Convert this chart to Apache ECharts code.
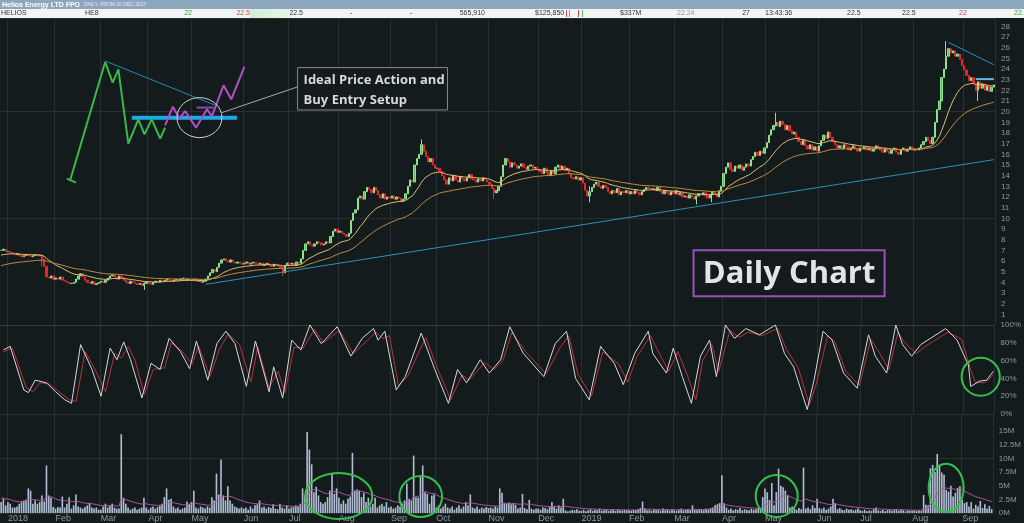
<!DOCTYPE html>
<html><head><meta charset="utf-8">
<script src="https://cdn.jsdelivr.net/npm/echarts@6/dist/echarts.min.js"></script>
<style>html,body{margin:0;padding:0;background:#131b1d;overflow:hidden}#c{width:1024px;height:523px}</style>
</head><body><div id="c"></div>
<script>
// ---------- DATA ----------
const monthLabels = ['', '2018','Feb','Mar','Apr','May','Jun','Jul','Aug','Sep','Oct','Nov','Dec','2019','Feb','Mar','Apr','May','Jun','Jul','Aug','Sep'];

const close2017 = [[7.0,7.1,6.9]];
const close2018 = [
 [6.9,6.8,6.7,6.6,6.7,6.5,6.4,6.5,6.6,6.5,6.4,6.5,6.6,6.5,6.5,6.2,5.5,4.5,4.4,4.6,4.3],
 [4.4,4.3,4.5,4.2,4.1,4.0,3.9,3.9,4.0,4.3,4.6,4.8,4.5,4.2,4.0,3.9,4.1,3.8,3.9,4.0],
 [4.1,4.0,4.2,4.4,4.6,4.7,4.5,4.3,4.6,4.4,4.2,4.0,3.9,4.1,4.0,3.9,3.8,3.9,3.7,3.9,4.0],
 [3.9,3.8,4.0,4.1,4.0,4.2,4.1,4.2,4.3,4.2,4.1,4.2,4.3,4.2,4.3,4.4,4.2,4.3,4.2],
 [4.2,4.3,4.1,4.2,4.0,4.1,4.3,4.6,4.9,5.2,5.0,5.4,5.8,6.1,6.2,6.0,5.9,6.1,5.9,5.8,5.9,5.8,5.7],
 [5.8,5.9,5.7,5.8,5.9,5.8,5.7,5.8,5.6,5.7,5.8,5.6,5.5,5.7,5.6,5.5,5.3,4.9,5.6,5.8],
 [5.7,5.8,5.6,5.9,5.8,6.2,7.0,7.6,7.8,7.5,7.4,7.6,7.8,7.7,7.5,7.6,7.8,7.7,8.3,8.8,9.0,8.7],
 [8.8,8.6,8.5,8.3,8.6,9.8,10.5,10.8,11.9,12.1,11.8,12.5,12.9,12.7,12.4,12.9,12.6,12.2,11.9,12.3,11.8,12.0,11.9],
 [12.1,11.8,12.0,11.9,11.6,11.8,12.3,13.0,13.6,13.4,15.0,15.6,16.0,16.9,16.3,15.8,15.3,15.6,15.0,14.7],
 [14.7,14.4,14.0,13.6,13.2,13.8,13.5,14.0,13.6,13.4,13.9,13.7,13.5,13.8,14.1,13.7,13.6,13.4,13.7,13.5,13.8,13.6,13.4],
 [13.2,12.8,12.4,12.6,13.0,13.9,15.0,15.6,15.3,14.8,15.2,15.0,14.7,14.9,15.1,14.8,14.6,14.9,15.0,14.7,14.8,14.6],
 [14.4,14.2,14.7,14.3,14.0,14.5,14.2,14.8,15.0,14.6,14.9,14.5,14.7,14.2,13.8,13.7,13.9,13.6,13.8]
];
const close2019 = [
 [13.3,12.6,12.1,12.5,12.9,13.2,13.4,13.0,12.8,13.1,12.9,12.5,12.3,12.6,12.4,12.8,12.2,12.5,12.4,12.6,12.3],
 [12.5,12.3,12.6,12.4,12.2,12.5,12.7,12.9,12.8,12.7,12.8,12.6,12.9,12.5,12.3,12.6,12.4,12.2,12.5,12.3],
 [12.6,12.2,12.4,12.0,12.1,11.9,12.2,12.0,11.8,12.1,12.3,12.2,12.4,12.1,11.9,12.2,12.5,12.3,12.0,12.6,13.0],
 [14.2,14.8,15.2,14.6,14.4,14.9,14.7,15.0,14.5,14.8,15.1,14.9,15.5,15.8,16.2,15.9,16.3,16.1,16.6],
 [17.1,17.8,18.3,18.7,19.0,18.6,19.1,18.8,18.3,18.7,18.2,17.9,18.1,17.6,17.2,16.9,17.3,16.8,16.5,16.9,16.4,16.7,16.3],
 [16.8,17.3,17.8,17.5,18.1,17.6,17.2,16.9,16.6,16.8,16.5,16.9,16.7,16.4,16.6,16.8,16.5,16.3,16.6],
 [16.5,16.7,16.4,16.6,16.3,16.5,16.8,16.6,16.4,16.2,16.5,16.3,16.1,16.4,16.6,16.2,16.0,16.4,16.6,16.3,16.5,16.7,16.4],
 [16.5,16.4,16.6,16.9,17.2,17.6,17.3,17.0,17.6,19.0,20.2,21.0,23.2,24.0,25.2,25.9,25.5,25.7,25.2,25.4,24.9,24.3],
 [23.9,23.4,22.9,23.2,22.6,22.0,22.8,22.2,22.6,22.0,22.4,21.9,22.3,22.5]
];
// notable intraday wicks: [bar index, low, high]
const wicks = [[18,5.5,6.6],[63,3.3,4.0],[124,4.6,5.5],[185,16.0,17.4],[217,11.8,12.8],[259,11.5,13.0],[306,11.3,12.1],[313,11.5,12.2],[341,18.6,19.9],[416,25.2,26.6],[430,21.0,22.8]];

// volume in millions
const volume2017 = [[2.0,2.6,1.4]];
const volume2018 = [
 [2.0,1.7,1.0,1.0,1.2,1.7,2.1,2.3,2.4,4.5,4.1,1.7,2.3,1.7,2.0,3.2,2.1,8.7,3.2,2.8,1.1],
 [0.8,1.1,1.0,3.0,1.0,1.7,2.9,0.8,1.4,3.4,1.2,1.0,0.8,1.1,1.4,1.8,1.0,0.8,1.0,0.6],
 [0.6,1.2,1.7,1.0,1.4,1.7,1.0,0.8,0.8,14.4,2.8,1.7,1.0,0.6,0.8,1.0,0.6,0.8,1.0,2.8,1.0],
 [0.6,1.0,1.2,0.8,1.1,1.4,1.7,2.9,4.5,2.4,2.6,1.2,0.8,1.0,0.6,0.8,1.0,2.1,1.7],
 [2.0,4.1,1.0,0.8,1.2,1.0,0.8,1.2,1.0,2.9,2.3,7.2,3.4,9.8,3.2,2.3,4.9,2.3,1.7,1.2,1.0,0.8,1.0],
 [0.8,1.0,0.6,1.2,0.8,1.4,1.6,2.3,1.0,1.2,0.8,1.1,0.9,1.6,0.8,0.7,1.7,1.0,0.8,1.4],
 [0.8,1.0,1.1,1.4,1.2,1.7,4.5,3.2,14.8,11.6,8.9,3.8,4.8,3.2,2.0,1.7,2.0,2.9,4.1,7.2,3.5,4.5],
 [2.8,1.7,2.3,1.7,2.6,3.0,11.0,4.1,4.3,4.1,2.9,3.7,2.0,2.8,1.2,1.7,2.8,1.0,1.4,1.7,1.2,2.0,1.0],
 [1.2,0.8,1.0,1.4,1.2,1.7,2.3,5.4,2.6,2.3,10.5,2.9,2.8,6.6,8.7,3.8,3.5,1.7,3.2,3.4],
 [1.0,1.4,0.8,1.2,1.7,1.0,0.8,1.2,0.6,1.0,1.4,0.8,1.2,2.0,1.4,3.4,1.0,0.8,1.2,0.7,1.0,0.8,1.1],
 [0.9,1.0,0.8,1.2,1.0,4.5,3.7,1.8,1.7,1.9,1.6,1.7,1.5,0.8,1.0,3.5,0.9,0.7,2.4,0.8,0.6,0.8],
 [0.8,0.6,1.0,0.9,0.7,1.1,2.0,1.2,0.8,1.4,1.0,2.6,0.5,0.3,0.4,0.6,0.5,0.7,0.4]
];
const volume2019 = [
 [0.4,0.6,0.3,0.5,0.7,0.4,0.6,0.5,0.8,0.4,0.5,0.6,0.4,0.5,0.7,0.4,0.6,0.5,0.4,0.6,0.5],
 [0.5,0.4,0.6,0.5,0.7,0.9,2.1,0.8,0.5,0.6,0.4,0.7,0.5,0.6,0.4,0.8,0.5,0.6,0.4,0.7],
 [0.5,0.4,0.6,0.8,0.5,0.6,0.7,0.5,1.4,0.6,0.5,0.7,0.6,0.5,0.8,0.6,0.9,1.0,1.4,1.6,1.8],
 [6.9,1.8,1.0,0.6,0.8,0.5,0.7,0.6,0.9,0.5,0.7,0.6,0.5,0.8,0.6,0.7,0.9,0.8,2.9],
 [4.5,3.8,2.4,5.5,1.4,3.8,8.1,5.0,4.7,4.1,3.2,1.0,1.2,0.8,0.6,0.9,0.7,8.3,0.8,1.0,0.7,1.4,0.9],
 [2.6,0.9,0.7,1.0,0.6,0.8,1.2,2.6,1.8,0.7,0.9,0.6,0.5,0.8,0.6,0.7,0.5,0.6,0.8],
 [0.5,0.4,0.6,0.3,0.5,0.4,0.7,1.0,0.5,0.4,0.6,0.3,0.5,0.6,0.4,0.5,0.7,0.4,0.6,0.5,0.3,0.5,0.4],
 [0.4,0.5,0.3,0.5,0.4,3.3,1.5,1.4,8.2,8.8,7.5,10.8,8.6,7.4,7.0,4.2,3.9,5.0,3.0,3.7,4.6,4.9],
 [2.4,1.8,2.0,1.2,2.0,0.8,1.5,1.2,2.2,0.9,1.6,0.8,1.3,0.7]
];
const volumeTicksShown = [0,2.5,5,7.5,10,12.5,15];

// stochastic oscillator turning points [bar index, %]
const stochK = [[1,72],[4,76],[10,27],[12,24],[15,38],[20,35],[24,25],[28,16],[31,12],[35,78],[40,50],[44,20],[48,74],[51,61],[54,81],[57,61],[62,18],[66,57],[70,50],[74,85],[79,70],[83,51],[86,82],[91,38],[95,79],[99,93],[103,79],[108,31],[112,82],[118,25],[120,53],[124,18],[128,83],[132,72],[136,100],[141,79],[148,98],[154,65],[159,85],[164,96],[166,83],[169,93],[174,27],[178,42],[185,91],[191,50],[197,12],[201,50],[205,35],[211,61],[215,46],[220,61],[224,98],[230,68],[239,42],[244,79],[249,93],[253,40],[259,16],[264,76],[270,57],[274,33],[279,68],[285,93],[287,68],[293,46],[296,74],[300,42],[304,12],[308,65],[312,83],[315,42],[319,100],[323,85],[328,96],[334,89],[341,100],[345,68],[349,53],[355,5],[358,38],[362,93],[366,83],[371,46],[377,29],[382,89],[385,65],[390,46],[394,100],[397,78],[401,65],[405,78],[416,96],[421,83],[426,55],[427,31],[431,37],[434,38],[437,48]];
const stochD = [[1,70],[5,74],[11,30],[14,25],[17,35],[21,34],[25,26],[30,16],[33,14],[37,70],[41,52],[46,25],[50,68],[53,63],[56,76],[59,60],[63,22],[67,50],[72,52],[75,80],[80,70],[84,56],[87,76],[92,42],[96,72],[100,90],[105,78],[110,36],[113,75],[118,30],[122,48],[125,24],[129,75],[133,74],[138,95],[142,80],[149,94],[155,68],[161,82],[165,92],[168,85],[171,88],[175,32],[179,42],[187,86],[192,52],[198,16],[203,44],[206,38],[213,58],[217,50],[221,60],[225,92],[231,70],[240,45],[246,74],[250,88],[254,45],[260,20],[265,70],[272,56],[276,36],[280,64],[286,88],[289,72],[294,48],[298,70],[302,45],[306,16],[309,60],[313,78],[316,48],[321,94],[325,86],[329,92],[335,88],[342,96],[346,72],[351,52],[356,10],[359,34],[364,88],[367,82],[372,48],[378,32],[383,84],[387,68],[391,50],[395,92],[398,80],[403,68],[407,76],[417,92],[423,84],[427,50],[429,36],[433,35],[437,44]];

// moving-average start levels read at the left edge
const maStart = {fast: 6.5, slow: 5.5, volume: 2.8};

// drawn annotations, in [bar index, price] units
const sketchRise = [[30.3,13.5],[45.8,24.65],[49.1,22.72],[51.6,23.97],[56.0,17.0],[60.4,19.28],[63.1,17.87],[66.3,19.28],[70.0,17.47],[72.2,18.5]];
const sketchCap = [[28.9,13.72],[33.0,13.35]];
const sketchBreak = [[72.2,18.72],[75.6,20.47],[78.5,19.37],[81.0,20.06],[85.8,18.5],[90.6,20.22],[92.8,19.59],[97.9,22.47],[101.3,21.16],[107.1,24.22]];
const sketchLevel = [[57.5,19.44],[103.8,19.44]];
const sketchTrend = [[45.8,24.75],[95.0,20.53]];
const sketchTarget = [[86.1,20.38],[93.5,20.38]];
const noteLink = [[97.2,19.91],[130.9,22.35]];
const supportLine = [[90,3.81],[437,15.5]];
const resistLine = [[417,26.5],[437,24.4]];
const breakoutLine = [[429,23.05],[437,23.05]];
const sketchRing = {c:[87.3,19.44], r:[9.9,1.875]};
const noteBox = [[130.5,24.13],[196.5,20.16]];
const noteText = 'Ideal Price Action and\nBuy Entry Setup';
const titleBox = [[304.8,7.0],[388.9,2.69]];
const titleText = 'Daily Chart';
const oscRing = {c:[431.2,41.9], r:[8.4,21.3]};
const volRings = [{c:[148.6,3.1],r:[14.8,4.2]},{c:[184.7,3.0],r:[9.4,3.75]},{c:[341.4,3.1],r:[9.25,3.84]},{c:[416.0,4.6],r:[7.7,4.4]}];

// ---------- BUILD ----------
const closeMonths = [...close2017, ...close2018, ...close2019];
const volMonths = [...volume2017, ...volume2018, ...volume2019];
const cats = [], closes = [], vols = [], labelAt = [];
closeMonths.forEach((m, mi) => m.forEach((c, j) => {
  cats.push(mi + '-' + j); closes.push(c); vols.push(volMonths[mi][j]);
  labelAt.push(j === 0 && mi > 0 ? monthLabels[mi] : '');
}));
const N = cats.length;
const wickMap = {}; wicks.forEach(w => { wickMap[w[0]] = w; });
const candles = closes.map((c, i) => {
  const o = i ? closes[i-1] : c; const w = wickMap[i];
  let lo = Math.min(o,c), hi = Math.max(o,c);
  if (w) { lo = Math.min(lo, w[1]); hi = Math.max(hi, w[2]); }
  return [o, c, lo, hi];
});
function ema(arr, n, seed){ const k = 2/(n+1); let p = seed; return arr.map(v => +(p = p + k*(v-p)).toFixed(3)); }
const fastMA = ema(closes, 20, maStart.fast);
const slowMA = ema(closes, 50, maStart.slow);
const volMA = ema(vols, 20, maStart.volume);

const BG = '#131b1d', GRID = '#243033', LBL = '#8f9a9e';
const isStart = i => labelAt[i] !== '';
function catAxis(g, showLabel){
  return {type:'category', gridIndex:g, data:cats, boundaryGap:true,
    axisLine:{show:false}, axisTick:{show:false},
    axisLabel: showLabel ? {show:true, interval:(i)=>isStart(i), formatter:(v,i)=>labelAt[i], color:LBL, fontSize:9, fontFamily:'Liberation Sans', align:'left', margin:1} : {show:false},
    splitLine:{show:true, interval:(i)=>isStart(i), lineStyle:{color:GRID, width:1}}};
}
function annoLine(data, color, width, z){
  return {type:'line', xAxisIndex:3, yAxisIndex:0, data, symbol:'none', silent:true, z:z||5,
    lineStyle:{color, width}, animation:false};
}
const yLbl = {color:LBL, fontSize:8, fontFamily:'Liberation Sans', margin:6};

const chart = echarts.init(document.getElementById('c'), null, {renderer:'canvas'});
chart.setOption({
  backgroundColor: BG, animation:false,
  grid:[{left:0,right:29,top:18,height:307},{left:0,right:29,top:325,height:89},{left:0,right:29,top:414,height:99}],
  xAxis:[catAxis(0,false), catAxis(1,false), catAxis(2,true),
    {type:'value', gridIndex:0, min:-0.5, max:N-0.5, show:false}],
  yAxis:[
    {type:'value', gridIndex:0, position:'right', min:0, max:28.78, interval:1, axisLine:{show:false}, axisTick:{show:false}, splitLine:{show:false}, axisLabel:Object.assign({showMinLabel:false, showMaxLabel:false}, yLbl)},
    {type:'value', gridIndex:0, min:0, max:28.78, interval:10, axisLabel:{show:false}, axisLine:{show:false}, axisTick:{show:false}, splitLine:{show:true, lineStyle:{color:GRID}}},
    {type:'value', gridIndex:1, position:'right', min:0, max:100, interval:20, axisLine:{show:false}, axisTick:{show:false}, splitLine:{show:false}, axisLabel:Object.assign({formatter:'{value}%'}, yLbl)},
    {type:'value', gridIndex:1, min:0, max:100, interval:100, axisLabel:{show:false}, axisLine:{show:false}, axisTick:{show:false}, splitLine:{show:true, lineStyle:{color:'#34403f'}}},
    {type:'value', gridIndex:2, position:'right', min:0, max:18.1, interval:2.5, axisLine:{show:false}, axisTick:{show:false}, splitLine:{show:false}, axisLabel:Object.assign({showMaxLabel:false, formatter:v=>volumeTicksShown.indexOf(v) >= 0 ? v+'M' : ''}, yLbl)},
    {type:'value', gridIndex:2, min:0, max:18.1, interval:10, axisLabel:{show:false}, axisLine:{show:false}, axisTick:{show:false}, splitLine:{show:true, lineStyle:{color:GRID}}}
  ],
  series:[
    {type:'candlestick', xAxisIndex:0, yAxisIndex:0, data:candles, barWidth:'80%', z:3,
      itemStyle:{color:'#5cbf5c', color0:'#e3262b', borderColor:'#8fe08f', borderColor0:'#e3262b', borderWidth:1}},
    {type:'line', xAxisIndex:0, yAxisIndex:0, data:fastMA, symbol:'none', z:4, lineStyle:{color:'#e2c070', width:1}},
    {type:'line', xAxisIndex:0, yAxisIndex:0, data:slowMA, symbol:'none', z:4, lineStyle:{color:'#c98a40', width:1}},
    {type:'line', xAxisIndex:1, yAxisIndex:2, data:stochD, symbol:'none', z:3, lineStyle:{color:'#b8323a', width:1}},
    {type:'line', xAxisIndex:1, yAxisIndex:2, data:stochK, symbol:'none', z:4, lineStyle:{color:'#d6d9da', width:1}},
    {type:'bar', xAxisIndex:2, yAxisIndex:4, data:vols, barWidth:'72%', z:3, itemStyle:{color:'#aebdd2'}},
    {type:'line', xAxisIndex:2, yAxisIndex:4, data:volMA, symbol:'none', z:4, lineStyle:{color:'#b0559f', width:1}},
    annoLine(supportLine, '#2d8fbf', 1),
    annoLine(resistLine, '#2d8fbf', 1),
    annoLine(breakoutLine, '#55bde6', 2),
    annoLine(sketchTrend, '#2b86b5', 1),
    annoLine(sketchLevel, '#1ea8e8', 4),
    annoLine(sketchRise, '#38b94a', 2),
    annoLine(sketchCap, '#38b94a', 2),
    annoLine(sketchBreak, '#b24fc4', 2, 6),
    annoLine(sketchTarget, '#8e4aa8', 2, 6),
    annoLine(noteLink, '#a8a8a8', 1)
  ]
});

// ---------- overlays positioned through the axes ----------
const px = b => chart.convertToPixel({xAxisIndex:3}, b);
const py = (ax, v) => chart.convertToPixel({yAxisIndex:ax}, v);
function ring(obj, ax, color, w){
  const cx = px(obj.c[0]), cy = py(ax, obj.c[1]);
  return {type:'ellipse', shape:{cx, cy, rx: Math.abs(px(obj.c[0]+obj.r[0]) - cx), ry: Math.abs(py(ax, obj.c[1]+obj.r[1]) - cy)},
    style:{fill:null, stroke:color, lineWidth:w}, z:100, silent:true};
}
function box(b, stroke, w){
  const x1 = px(b[0][0]), y1 = py(0, b[0][1]), x2 = px(b[1][0]), y2 = py(0, b[1][1]);
  return {x1, y1, x2, y2, el:{type:'rect', shape:{x:x1, y:y1, width:x2-x1, height:y2-y1}, style:{fill:BG, stroke, lineWidth:w}, z:100, silent:true}};
}
const nb = box(noteBox, '#8a8a8a', 1);
const tb = box(titleBox, '#9d4fb9', 2);
const T = (text, x, y, font, fill, align) => ({type:'text', z:120, silent:true, style:{text, x, y, font, fill, align: align||'left', verticalAlign:'middle'}});
const hf = '7px "Liberation Sans"';
const graphics = [
  ring(sketchRing, 0, '#cfcfcf', 1),
  ring(oscRing, 2, '#35c04a', 2),
  ...volRings.map(r => ring(r, 4, '#35c04a', 2)),
  nb.el,
  {type:'text', z:110, silent:true, style:{text:noteText, x:nb.x1+6, y:nb.y1+3, font:'bold 13px "Open Sans"', fill:'#d9d9d9', lineHeight:20, align:'left', verticalAlign:'top'}},
  tb.el,
  {type:'text', z:110, silent:true, style:{text:titleText, x:(tb.x1+tb.x2)/2, y:(tb.y1+tb.y2)/2+1, font:'bold 31px "Open Sans"', fill:'#e4e4e4', align:'center', verticalAlign:'middle'}},
  // header bar
  {type:'rect', z:110, silent:true, shape:{x:0,y:0,width:1024,height:9}, style:{fill:'#8ca6be'}},
  {type:'rect', z:110, silent:true, shape:{x:0,y:9,width:1024,height:9}, style:{fill:'#f3f4f4'}},
  {type:'rect', z:110, silent:true, shape:{x:250,y:9,width:52,height:9}, style:{fill:new echarts.graphic.LinearGradient(0,0,1,0,[{offset:0,color:'#d3efd3'},{offset:1,color:'#f0f7f0'}])}},
  {type:'rect', z:111, silent:true, shape:{x:566,y:10,width:1,height:7}, style:{fill:'#d04a4a'}},
  {type:'rect', z:111, silent:true, shape:{x:569,y:10,width:1,height:7}, style:{fill:'#5cbf5c'}},
  {type:'rect', z:111, silent:true, shape:{x:578,y:10,width:1,height:7}, style:{fill:'#d04a4a'}},
  {type:'rect', z:111, silent:true, shape:{x:582,y:10,width:1,height:7}, style:{fill:'#5cbf5c'}},
  T('Helios Energy LTD FPO', 2, 4.6, 'bold 7px "Liberation Sans"', '#ffffff'),
  T('DAILY, FROM 20 DEC 2017', 84, 4.8, '5px "Liberation Sans"', '#e6edf3'),
  T('HELIOS', 1, 13.5, hf, '#333'),
  T('HE8', 85, 13.5, hf, '#333'),
  T('22', 192, 13.5, hf, '#3a9a3a', 'right'),
  T('22.5', 250, 13.5, hf, '#c84848', 'right'),
  T('22.5', 303, 13.5, hf, '#333', 'right'),
  T('-', 350, 13.5, hf, '#333'),
  T('-', 410, 13.5, hf, '#333'),
  T('565,910', 485, 13.5, hf, '#333', 'right'),
  T('$125,850', 535, 13.5, hf, '#333'),
  T('$337M', 620, 13.5, hf, '#333'),
  T('22.24', 677, 13.5, hf, '#999'),
  T('27', 750, 13.5, hf, '#333', 'right'),
  T('13:43:36', 765, 13.5, hf, '#333'),
  T('22.5', 847, 13.5, hf, '#333'),
  T('22.5', 902, 13.5, hf, '#333'),
  T('22', 959, 13.5, hf, '#c84848'),
  T('22.5', 1014, 13.5, hf, '#3a9a3a')
];
chart.setOption({graphic: graphics});
</script>
</body></html>
